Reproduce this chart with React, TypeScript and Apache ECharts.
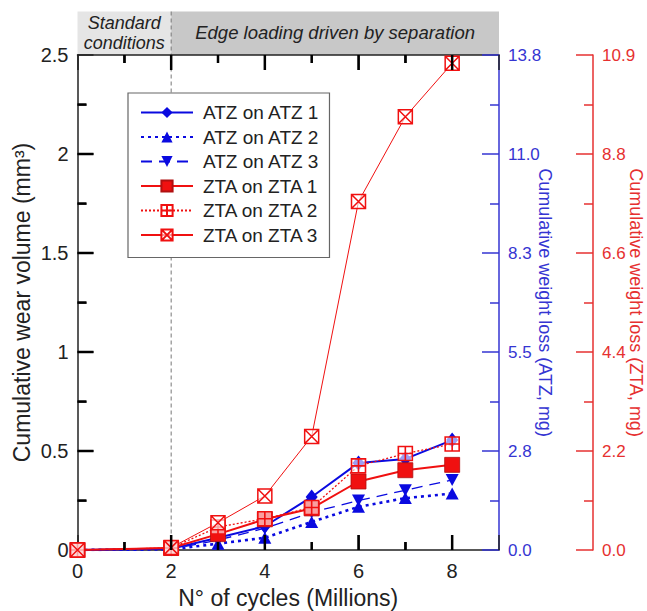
import { useEffect, useRef } from "react";
import * as echarts from "echarts";

const cycles = [0, 2, 3, 4, 5, 6, 7, 8];
const atz1 = [0, 0.006, 0.062, 0.12, 0.268, 0.44, 0.46, 0.555];
const atz2 = [0, 0.003, 0.032, 0.062, 0.142, 0.218, 0.262, 0.285];
const atz3 = [0, 0.004, 0.05, 0.11, 0.19, 0.25, 0.302, 0.354];
const zta1 = [0, 0.01, 0.08, 0.155, 0.21, 0.346, 0.403, 0.43];
const zta2 = [0, 0.01, 0.116, 0.158, 0.215, 0.425, 0.487, 0.535];
const zta3 = [0, 0.012, 0.138, 0.273, 0.573, 1.76, 2.188, 2.458];

const seriesNames = [
  "ATZ on ATZ 1",
  "ATZ on ATZ 2",
  "ATZ on ATZ 3",
  "ZTA on ZTA 1",
  "ZTA on ZTA 2",
  "ZTA on ZTA 3",
];
const leftLabels = ["0", "0.5", "1", "1.5", "2", "2.5"];
const blueLabels = ["0.0", "2.8", "5.5", "8.3", "11.0", "13.8"];
const redLabels = ["0.0", "2.2", "4.4", "6.6", "8.8", "10.9"];
const headerLeft = "Standard\nconditions";
const headerRight = "Edge loading driven by separation";
const xTitle = "N° of cycles (Millions)";
const yTitle = "Cumulative wear volume (mm³)";
const blueTitle = "Cumulative weight loss (ATZ, mg)";
const redTitle = "Cumulative weight loss (ZTA, mg)";

const X_MIN = 0;
const X_MAX = 9;
const X_STEP = 2;
const Y_MIN = 0;
const Y_MAX = 2.5;
const Y_STEP = 0.5;

const FONT = "Liberation Sans, Arial, sans-serif";
const BLUE = "#0a0ae0";
const BLUE_AX = "#3535d2";
const RED = "#f01010";
const RED_AX = "#e63030";
const BLACK = "#222222";
const TICK = "#000000";

const plusSquare = "path://M0,0H10V10H0Z M5,0V10 M0,5H10";
const crossSquare = "path://M0,0H10V10H0Z M0,0L10,10 M10,0L0,10";

const pairs = (arr: number[]) => cycles.map((c, i) => [c, arr[i]]);
const idx = (v: number) => Math.round(v / Y_STEP);

function yAxisOf(
  position: string,
  offset: number,
  color: string,
  labels: string[],
  name: string,
  nameSize: number,
  nameGap: number,
  nameRotate: number,
  labelSize: number,
  majorLen: number
) {
  return {
    type: "value",
    min: Y_MIN,
    max: Y_MAX,
    interval: Y_STEP,
    position,
    offset,
    name,
    nameLocation: "middle",
    nameGap,
    nameRotate,
    nameMoveOverlap: false,
    nameTextStyle: { fontSize: nameSize, color, fontFamily: FONT },
    axisLine: { show: true, onZero: false, lineStyle: { color, width: 1.5 } },
    axisLabel: {
      fontSize: labelSize,
      color,
      margin: 9,
      fontFamily: FONT,
      formatter: (v: number) => labels[idx(v)] ?? "",
    },
    axisTick: { show: true, inside: true, length: majorLen, lineStyle: { width: 1.5, color } },
    minorTick: { show: true, splitNumber: 2, length: 9, lineStyle: { width: 1.5, color } },
    splitLine: { show: false },
    minorSplitLine: { show: false },
  };
}

function xAxisOf(position: string, showLabel: boolean) {
  return {
    type: "value",
    min: X_MIN,
    max: X_MAX,
    interval: X_STEP,
    position,
    name: showLabel ? xTitle : "",
    nameLocation: "middle",
    nameGap: 36,
    nameMoveOverlap: false,
    nameTextStyle: { fontSize: 23, color: BLACK, fontFamily: FONT },
    axisLine: { show: true, onZero: false, lineStyle: { color: BLACK, width: 1.5 } },
    axisLabel: {
      show: showLabel,
      fontSize: 20,
      color: BLACK,
      margin: 11,
      fontFamily: FONT,
      showMaxLabel: false,
    },
    axisTick: { show: true, inside: true, length: 15, lineStyle: { width: 1.5, color: BLACK } },
    minorTick: { show: true, splitNumber: 2, length: 8, lineStyle: { width: 1.5, color: BLACK } },
    splitLine: { show: false },
    minorSplitLine: { show: false },
  };
}

export default function App() {
  const ref = useRef<HTMLDivElement>(null);
  useEffect(() => {
    if (!ref.current) return;
    const chart = echarts.init(ref.current, null, { renderer: "svg" });
    chart.setOption({
      animation: false,
      backgroundColor: "#fff",
      textStyle: { fontFamily: FONT },
      grid: {
        left: 77.5,
        right: 148,
        top: 55,
        bottom: 61,
        containLabel: false,
        outerBoundsMode: "none",
      },
      legend: {
        orient: "vertical",
        left: 128,
        top: 93,
        z: 60,
        data: seriesNames,
        backgroundColor: "#fff",
        borderColor: "#666",
        borderWidth: 1.2,
        borderRadius: 0,
        padding: [10, 10, 13, 12],
        itemWidth: 52,
        itemHeight: 14,
        itemGap: 5.5,
        textStyle: { fontSize: 19, color: BLACK, fontFamily: FONT, padding: [0, 0, 0, 5] },
      },
      xAxis: [xAxisOf("bottom", true), xAxisOf("top", false)],
      yAxis: [
        yAxisOf("left", 0, BLACK, leftLabels, yTitle, 23, 44, 90, 20, 16),
        yAxisOf("right", 0, BLUE_AX, blueLabels, blueTitle, 18, 37, -90, 17, 17),
        yAxisOf("right", 94, RED_AX, redLabels, redTitle, 18, 34, -90, 17, 17),
      ],
      series: [
        {
          name: seriesNames[0],
          type: "line",
          z: 3,
          data: pairs(atz1),
          symbol: "diamond",
          symbolSize: [12, 15],
          lineStyle: { color: BLUE, width: 2, type: "solid" },
          itemStyle: { color: BLUE },
        },
        {
          name: seriesNames[1],
          type: "line",
          z: 3,
          data: pairs(atz2),
          symbol: "triangle",
          symbolSize: [13, 12],
          lineStyle: { color: BLUE, width: 2.6, type: [3, 4] },
          itemStyle: { color: BLUE },
        },
        {
          name: seriesNames[2],
          type: "line",
          z: 3,
          data: pairs(atz3),
          symbol: "triangle",
          symbolRotate: 180,
          symbolSize: [13, 12],
          lineStyle: { color: BLUE, width: 1.3, type: [11, 7] },
          itemStyle: { color: BLUE },
        },
        {
          name: seriesNames[3],
          type: "line",
          z: 3,
          data: pairs(zta1),
          symbol: "rect",
          symbolSize: 15,
          lineStyle: { color: RED, width: 2, type: "solid" },
          itemStyle: { color: RED, borderColor: "#b01010", borderWidth: 0.8 },
        },
        {
          name: seriesNames[4],
          type: "line",
          z: 3,
          data: pairs(zta2),
          symbol: plusSquare,
          symbolSize: 14,
          lineStyle: { color: RED, width: 1.3, type: [2, 2] },
          itemStyle: { color: "rgba(255,255,255,0.6)", borderColor: RED, borderWidth: 1.6 },
        },
        {
          name: seriesNames[5],
          type: "line",
          z: 3,
          data: pairs(zta3),
          symbol: crossSquare,
          symbolSize: 14,
          lineStyle: { color: RED, width: 1, type: "solid" },
          itemStyle: { color: "rgba(255,255,255,0.6)", borderColor: RED, borderWidth: 1.5 },
        },
      ],
    });

    const px = (v: number) => chart.convertToPixel({ xAxisIndex: 0 }, v) as number;
    const py = (v: number) => chart.convertToPixel({ yAxisIndex: 0 }, v) as number;
    const x0 = px(X_MIN);
    const x2 = px(2);
    const xEnd = px(X_MAX);
    const yTop = py(Y_MAX);
    const yBot = py(Y_MIN);
    const bandTop = 11.5;

    // tick marks of the black frame axes, placed through the axis scales
    const ticks: any[] = [];
    const xMinorStep = X_STEP / 2;
    for (let v = X_MIN + xMinorStep; v < X_MAX - 1e-9; v += xMinorStep) {
      const major = Math.abs(v / X_STEP - Math.round(v / X_STEP)) < 1e-6;
      const len = major ? 15 : 8;
      const x = px(v);
      ticks.push({
        type: "line",
        z: 50,
        shape: { x1: x, y1: yBot, x2: x, y2: yBot - len },
        style: { stroke: TICK, lineWidth: 2.5 },
      });
      ticks.push({
        type: "line",
        z: 50,
        shape: { x1: x, y1: yTop, x2: x, y2: yTop + len },
        style: { stroke: TICK, lineWidth: 2.5 },
      });
    }
    const yMinorStep = Y_STEP / 2;
    for (let v = Y_MIN + yMinorStep; v < Y_MAX - 1e-9; v += yMinorStep) {
      const major = Math.abs(v / Y_STEP - Math.round(v / Y_STEP)) < 1e-6;
      const len = major ? 16 : 9;
      const y = py(v);
      ticks.push({
        type: "line",
        z: 50,
        shape: { x1: x0, y1: y, x2: x0 + len, y2: y },
        style: { stroke: TICK, lineWidth: 2.5 },
      });
    }

    chart.setOption({
      graphic: [
        {
          type: "rect",
          z: 0,
          shape: { x: x0, y: bandTop, width: x2 - x0, height: yTop - bandTop },
          style: { fill: "#e5e5e5" },
        },
        {
          type: "rect",
          z: 0,
          shape: { x: x2, y: bandTop, width: xEnd - x2, height: yTop - bandTop },
          style: { fill: "#c8c8c8" },
        },
        {
          type: "line",
          z: 0,
          shape: { x1: x2, y1: bandTop, x2: x2, y2: yBot },
          style: { stroke: "#777", lineWidth: 1, lineDash: [4, 3] },
        },
        {
          type: "text",
          z: 1,
          x: (x0 + x2) / 2,
          y: (bandTop + yTop) / 2,
          style: {
            text: headerLeft,
            fontSize: 18,
            fontStyle: "italic",
            fontFamily: FONT,
            fill: BLACK,
            align: "center",
            verticalAlign: "middle",
            lineHeight: 20,
          },
        },
        {
          type: "text",
          z: 1,
          x: (x2 + xEnd) / 2,
          y: (bandTop + yTop) / 2 - 1,
          style: {
            text: headerRight,
            fontSize: 18.5,
            fontStyle: "italic",
            fontFamily: FONT,
            fill: BLACK,
            align: "center",
            verticalAlign: "middle",
          },
        },
        ...ticks,
      ],
    });
    return () => chart.dispose();
  }, []);
  return (
    <div
      ref={ref}
      style={{ position: "fixed", left: 0, top: 0, width: 647, height: 611 }}
    />
  );
}
